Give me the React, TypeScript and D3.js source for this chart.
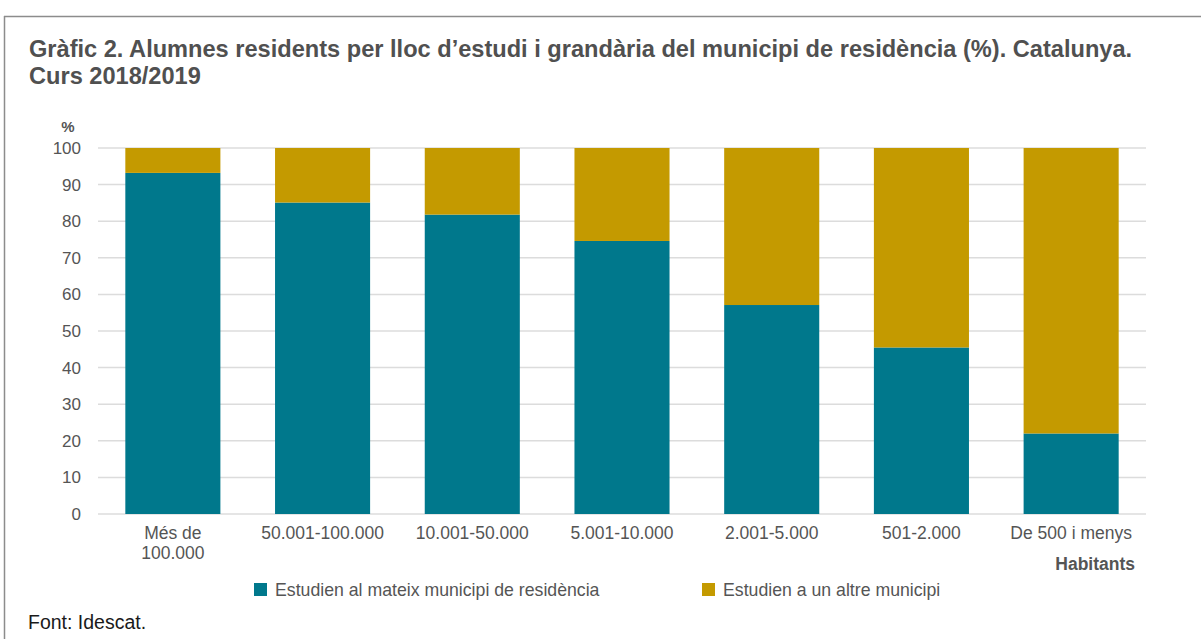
import { useEffect, useRef } from "react"
import * as d3 from "d3"

const categories = [
  "Més de 100.000",
  "50.001-100.000",
  "10.001-50.000",
  "5.001-10.000",
  "2.001-5.000",
  "501-2.000",
  "De 500 i menys",
]
const sameMunicipi = [93.2, 85.1, 81.8, 74.6, 57.1, 45.5, 22.0]
const otherMunicipi = [6.8, 14.9, 18.2, 25.4, 42.9, 54.5, 78.0]
const seriesNames = ["Estudien al mateix municipi de residència", "Estudien a un altre municipi"]
const yTicks = [0, 10, 20, 30, 40, 50, 60, 70, 80, 90, 100]

const COLORS = { teal: "#00788c", gold: "#c49a00" }
const FONT = "'Liberation Sans', Arial, Helvetica, sans-serif"

export default function App() {
  const svgRef = useRef<SVGSVGElement>(null)

  useEffect(() => {
    if (!svgRef.current) return
    const svg = d3.select(svgRef.current)
    svg.selectAll("*").remove()

    const W = 1201
    const H = 639
    const margin = { top: 148, left: 98, right: W - 1146, bottom: H - 514 }
    const width = W - margin.left - margin.right
    const height = H - margin.top - margin.bottom

    // marc
    svg.append("line").attr("x1", 4).attr("x2", W).attr("y1", 16.5).attr("y2", 16.5)
      .attr("stroke", "#8c8c8c").attr("stroke-width", 1.5)
    svg.append("line").attr("x1", 4.5).attr("x2", 4.5).attr("y1", 16).attr("y2", H)
      .attr("stroke", "#8c8c8c").attr("stroke-width", 1.5)

    // títol
    const title = svg.append("text").attr("font-family", FONT).attr("font-weight", "bold")
      .attr("font-size", 23.6).attr("fill", "#505050")
    title.append("tspan").attr("x", 29).attr("y", 57)
      .text("Gràfic 2. Alumnes residents per lloc d’estudi i grandària del municipi de residència (%). Catalunya.")
    title.append("tspan").attr("x", 29).attr("y", 84).text("Curs 2018/2019")

    const g = svg.append("g").attr("transform", `translate(${margin.left},${margin.top})`)

    const x = d3.scaleBand().domain(categories).range([0, width]).paddingInner(0.365).paddingOuter(0.1825)
    const y = d3.scaleLinear().domain([0, 100]).range([height, 0])

    // graella
    g.append("g").selectAll("line").data(yTicks).enter().append("line")
      .attr("x1", 0).attr("x2", width)
      .attr("y1", (d) => y(d)).attr("y2", (d) => y(d))
      .attr("stroke", "#dcdcdc").attr("stroke-width", 1.5)

    // eix Y
    g.append("g").selectAll("text").data(yTicks).enter().append("text")
      .attr("x", -17).attr("y", (d) => y(d)).attr("dy", "0.35em")
      .attr("text-anchor", "end").attr("font-family", FONT).attr("font-size", 17)
      .attr("fill", "#555").text((d) => d)
    g.append("text").attr("x", -30).attr("y", -16).attr("text-anchor", "middle")
      .attr("font-family", FONT).attr("font-size", 15).attr("font-weight", "bold")
      .attr("fill", "#555").text("%")

    // barres apilades
    const rows = categories.map((c, i) => ({ cat: c, a: sameMunicipi[i], b: otherMunicipi[i] }))
    const stack = d3.stack<{ cat: string; a: number; b: number }>().keys(["a", "b"])(rows)
    const colors = [COLORS.teal, COLORS.gold]
    stack.forEach((layer, li) => {
      g.append("g").selectAll("rect").data(layer).enter().append("rect")
        .attr("x", (d) => x(d.data.cat)!)
        .attr("width", x.bandwidth())
        .attr("y", (d) => y(d[1]))
        .attr("height", (d) => y(d[0]) - y(d[1]))
        .attr("fill", colors[li])
    })

    // etiquetes X
    categories.forEach((c) => {
      const cx = x(c)! + x.bandwidth() / 2
      const t = g.append("text").attr("text-anchor", "middle").attr("font-family", FONT)
        .attr("font-size", 17.5).attr("fill", "#555")
      if (c === "Més de 100.000") {
        t.append("tspan").attr("x", cx).attr("y", height + 25).text("Més de")
        t.append("tspan").attr("x", cx).attr("y", height + 45).text("100.000")
      } else {
        t.append("tspan").attr("x", cx).attr("y", height + 25).text(c)
      }
    })

    g.append("text").attr("x", width - 11).attr("y", height + 56).attr("text-anchor", "end")
      .attr("font-family", FONT).attr("font-size", 17.5).attr("font-weight", "bold")
      .attr("fill", "#555").text("Habitants")

    // llegenda
    const legendX = [254, 702]
    seriesNames.forEach((name, i) => {
      svg.append("rect").attr("x", legendX[i]).attr("y", 583).attr("width", 13).attr("height", 13)
        .attr("fill", colors[i])
      svg.append("text").attr("x", legendX[i] + 21).attr("y", 596).attr("font-family", FONT)
        .attr("font-size", 17.7).attr("fill", "#555").text(name)
    })

    svg.append("text").attr("x", 28).attr("y", 629).attr("font-family", FONT)
      .attr("font-size", 19.5).attr("fill", "#1a1a1a").text("Font: Idescat.")
  }, [])

  return (
    <svg
      ref={svgRef}
      width={1201}
      height={639}
      style={{ position: "absolute", left: 0, top: 0, background: "#fff" }}
    />
  )
}
